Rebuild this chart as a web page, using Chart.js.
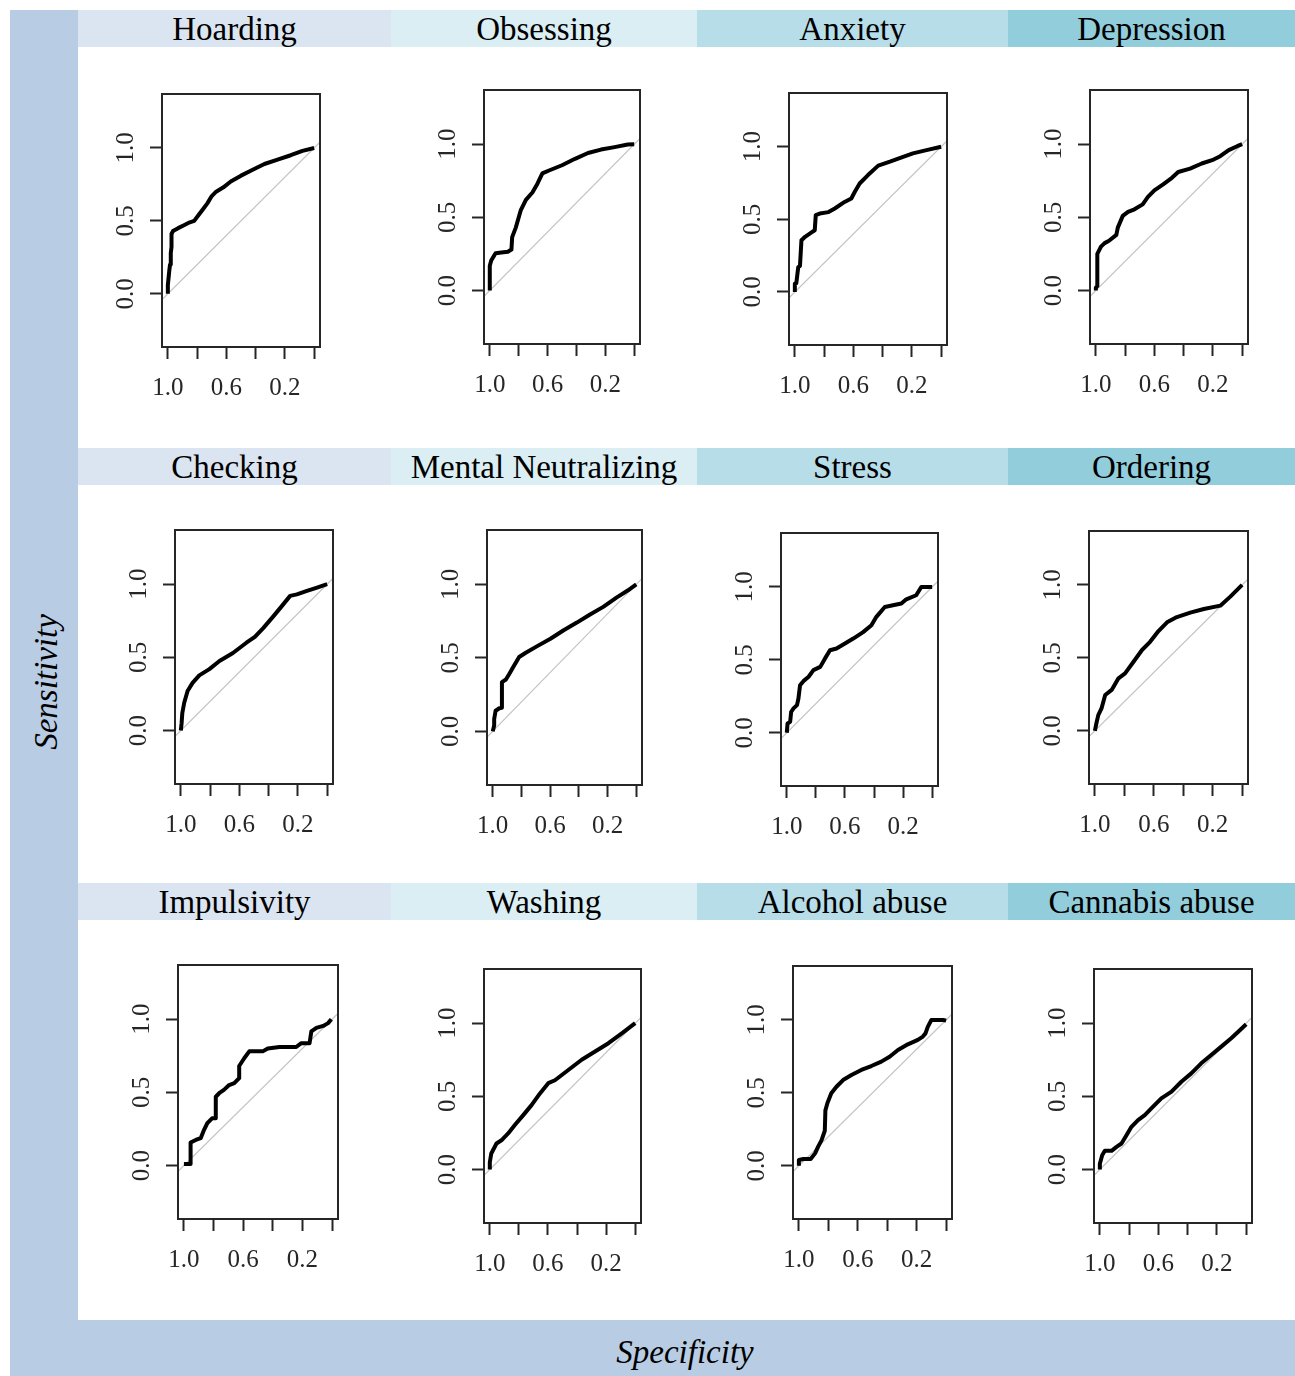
<!DOCTYPE html>
<html><head><meta charset="utf-8">
<script src="https://cdn.jsdelivr.net/npm/chart.js@4.4.0/dist/chart.umd.min.js"></script>
<style>
body{margin:0;background:#fff;}
#root{position:relative;width:1295px;height:1376px;overflow:hidden;background:#fff;font-family:'Liberation Serif',serif;}
.band{position:absolute;background:#b8cce4;}
.hdr{position:absolute;height:37px;line-height:38px;text-align:center;font-size:33px;color:#000;white-space:nowrap;}
canvas{position:absolute;}
.axt{position:absolute;font-style:italic;font-size:33px;color:#000;white-space:nowrap;line-height:40px;text-align:center;width:300px;height:40px;}
</style></head>
<body><div id="root"></div>
<script>
// ---- data ----
const panelTitles = ['Hoarding','Obsessing','Anxiety','Depression','Checking','Mental Neutralizing','Stress','Ordering','Impulsivity','Washing','Alcohol abuse','Cannabis abuse'];
const headerColors = ['#dbe5f1','#daeef3','#b6dde8','#92cddc'];
const xTickValues = [1.0,0.8,0.6,0.4,0.2,0.0];
const xTickLabels = ['1.0','0.6','0.2'];
const yTickValues = [0.0,0.5,1.0];
const yTickLabels = ['0.0','0.5','1.0'];
const chanceLine = [[1.06,-0.06],[-0.06,1.06]];
// ROC curves as [specificity, sensitivity]
const hoarding = [[1,0],[1,0.06],[0.995,0.11],[0.99,0.16],[0.985,0.2],[0.98,0.28],[0.975,0.32],[0.975,0.41],[0.965,0.43],[0.93,0.45],[0.89,0.47],[0.85,0.49],[0.82,0.5],[0.79,0.54],[0.76,0.58],[0.73,0.62],[0.70,0.67],[0.67,0.70],[0.62,0.73],[0.57,0.77],[0.50,0.81],[0.42,0.85],[0.34,0.89],[0.25,0.92],[0.16,0.95],[0.08,0.98],[0,1]];
const obsessing = [[1,0],[1,0.17],[0.99,0.205],[0.96,0.255],[0.92,0.26],[0.875,0.265],[0.85,0.28],[0.845,0.365],[0.82,0.43],[0.785,0.55],[0.75,0.62],[0.705,0.67],[0.67,0.73],[0.636,0.80],[0.59,0.82],[0.50,0.856],[0.41,0.90],[0.32,0.94],[0.23,0.963],[0.136,0.98],[0.045,0.998],[0,1]];
const anxiety = [[1,0],[1,0.057],[0.99,0.06],[0.977,0.17],[0.965,0.18],[0.955,0.356],[0.93,0.38],[0.886,0.41],[0.864,0.425],[0.857,0.53],[0.83,0.54],[0.77,0.55],[0.727,0.575],[0.66,0.62],[0.614,0.644],[0.59,0.69],[0.557,0.747],[0.5,0.805],[0.43,0.87],[0.35,0.897],[0.26,0.93],[0.193,0.954],[0.1,0.977],[0,1]];
const depression = [[1,0],[1,0.02],[0.99,0.03],[0.99,0.25],[0.965,0.30],[0.94,0.324],[0.91,0.34],[0.86,0.38],[0.85,0.43],[0.816,0.51],[0.78,0.537],[0.736,0.555],[0.68,0.589],[0.644,0.64],[0.6,0.685],[0.54,0.726],[0.48,0.77],[0.437,0.81],[0.356,0.833],[0.276,0.868],[0.195,0.895],[0.15,0.918],[0.092,0.959],[0.034,0.986],[0,1]];
const checking = [[1,0],[0.995,0.05],[0.99,0.12],[0.977,0.19],[0.954,0.27],[0.92,0.326],[0.874,0.377],[0.805,0.42],[0.736,0.475],[0.644,0.53],[0.552,0.60],[0.494,0.64],[0.437,0.70],[0.368,0.78],[0.31,0.85],[0.253,0.92],[0.207,0.93],[0.138,0.954],[0.069,0.977],[0,1]];
const mentalNeutralizing = [[1,0],[0.99,0.04],[0.99,0.084],[0.98,0.14],[0.954,0.157],[0.936,0.16],[0.936,0.335],[0.908,0.353],[0.885,0.39],[0.85,0.45],[0.816,0.506],[0.77,0.535],[0.69,0.58],[0.598,0.63],[0.506,0.688],[0.414,0.74],[0.322,0.795],[0.23,0.847],[0.138,0.91],[0.057,0.96],[0,1]];
const stress = [[1,0],[0.995,0.064],[0.977,0.075],[0.97,0.144],[0.954,0.167],[0.93,0.19],[0.92,0.235],[0.909,0.326],[0.886,0.354],[0.85,0.384],[0.817,0.43],[0.77,0.452],[0.737,0.51],[0.703,0.566],[0.658,0.578],[0.6,0.612],[0.543,0.646],[0.475,0.69],[0.418,0.737],[0.384,0.795],[0.326,0.863],[0.27,0.874],[0.212,0.886],[0.178,0.915],[0.11,0.943],[0.075,1.0],[0.0,1.0]];
const ordering = [[1,0],[0.99,0.05],[0.977,0.107],[0.955,0.153],[0.93,0.245],[0.886,0.28],[0.84,0.36],[0.795,0.394],[0.74,0.47],[0.68,0.554],[0.625,0.61],[0.568,0.684],[0.51,0.744],[0.443,0.78],[0.352,0.81],[0.26,0.835],[0.148,0.858],[0.08,0.92],[0,1]];
const impulsivity = [[1,0.01],[0.955,0.01],[0.955,0.157],[0.92,0.175],[0.887,0.187],[0.864,0.244],[0.842,0.29],[0.81,0.323],[0.785,0.323],[0.785,0.47],[0.762,0.494],[0.73,0.517],[0.695,0.55],[0.66,0.563],[0.627,0.597],[0.627,0.68],[0.593,0.733],[0.559,0.78],[0.468,0.78],[0.434,0.80],[0.355,0.81],[0.242,0.81],[0.208,0.836],[0.152,0.836],[0.14,0.916],[0.106,0.94],[0.06,0.954],[0.027,0.973],[0.005,1.0]];
const washing = [[1,0],[1,0.05],[0.99,0.11],[0.954,0.178],[0.92,0.2],[0.874,0.247],[0.828,0.304],[0.77,0.372],[0.713,0.44],[0.655,0.52],[0.598,0.59],[0.552,0.61],[0.46,0.68],[0.368,0.75],[0.276,0.806],[0.184,0.863],[0.092,0.93],[0,1]];
const alcoholAbuse = [[1,0],[1,0.04],[0.97,0.046],[0.92,0.046],[0.89,0.085],[0.87,0.13],[0.846,0.176],[0.824,0.24],[0.82,0.38],[0.806,0.43],[0.78,0.497],[0.745,0.542],[0.70,0.588],[0.643,0.622],[0.576,0.657],[0.508,0.684],[0.44,0.714],[0.384,0.748],[0.327,0.794],[0.26,0.833],[0.192,0.863],[0.158,0.886],[0.14,0.908],[0.124,0.954],[0.10,1.0],[0.02,1.0],[0,0.995]];
const cannabisAbuse = [[1,0],[1,0.04],[0.984,0.098],[0.966,0.128],[0.92,0.128],[0.886,0.155],[0.852,0.178],[0.818,0.235],[0.784,0.292],[0.739,0.338],[0.693,0.372],[0.648,0.418],[0.58,0.486],[0.51,0.532],[0.443,0.60],[0.375,0.657],[0.307,0.726],[0.239,0.783],[0.17,0.84],[0.102,0.897],[0.045,0.95],[0,0.993]];
const curves = [hoarding,obsessing,anxiety,depression,checking,mentalNeutralizing,stress,ordering,impulsivity,washing,alcoholAbuse,cannabisAbuse];

// ---- layout (plot box left, top, width, height) ----
const boxes = [
 [162,94,158,253],[484,90,156,254],[789,93,158,252],[1090,90,158,254],
 [175,530,158,254],[487,530,155,255],[781,533,157,253],[1089,531,159,253],
 [178,965,160,254],[484,969,157,254],[793,966,159,253],[1094,969,158,254]
];
const colEdges = [78,391,697,1008,1295];
const rowTops = [10,448,883];

const root = document.getElementById('root');
function div(cls, css, text){const d=document.createElement('div');d.className=cls;Object.assign(d.style,css);if(text!==undefined)d.textContent=text;root.appendChild(d);return d;}
div('band',{left:'10px',top:'10px',width:'68px',height:'1366px'});
div('band',{left:'10px',top:'1320px',width:'1285px',height:'56px'});
for(let r=0;r<3;r++)for(let c=0;c<4;c++){
  div('hdr',{left:colEdges[c]+'px',top:rowTops[r]+'px',width:(colEdges[c+1]-colEdges[c])+'px',background:headerColors[c]},panelTitles[r*4+c]);
}
div('axt',{left:(46-150)+'px',top:(682-20)+'px',transform:'rotate(-90deg)'},'Sensitivity');
div('axt',{left:(685-150)+'px',top:(1352-20)+'px'},'Specificity');

const AXW=60, AXH=60, PT=10, PR=10;
const TICK_FONT=25;
const boxPlugin={id:'box',afterDraw(chart){const a=chart.chartArea,ctx=chart.ctx;ctx.save();ctx.strokeStyle='#262626';ctx.lineWidth=2;ctx.strokeRect(a.left,a.top,a.right-a.left,a.bottom-a.top);ctx.restore();}};
const yLabelPlugin={id:'ylab',afterDraw(chart){const s=chart.scales.y,ctx=chart.ctx;ctx.save();ctx.font=TICK_FONT+'px "Liberation Serif"';ctx.fillStyle='#262626';ctx.textAlign='center';ctx.textBaseline='middle';
  s.ticks.forEach((t,i)=>{const y=s.getPixelForValue(t.value);ctx.save();ctx.translate(chart.chartArea.left-36,y);ctx.rotate(-Math.PI/2);ctx.fillText(yTickLabels[i],0,0);ctx.restore();});ctx.restore();}};

curves.forEach((curve,i)=>{
  const [bl,bt,bw,bh]=boxes[i];
  const cv=document.createElement('canvas');
  cv.width=bw+AXW+PR; cv.height=bh+PT+AXH;
  cv.style.left=(bl-AXW)+'px'; cv.style.top=(bt-PT)+'px';
  cv.style.width=cv.width+'px'; cv.style.height=cv.height+'px';
  root.appendChild(cv);
  new Chart(cv,{
    type:'scatter',
    data:{datasets:[
      {data:chanceLine.map(([x,y])=>({x,y})),showLine:true,borderColor:'#c4c4c4',backgroundColor:'#c4c4c4',borderWidth:1.2,pointRadius:0,clip:0,order:2},
      {data:curve.map(([x,y])=>({x,y})),showLine:true,borderColor:'#000',backgroundColor:'#000',borderWidth:4,pointRadius:0,clip:0,order:1,borderJoinStyle:'round',borderCapStyle:'butt'}
    ]},
    options:{
      responsive:false,animation:false,devicePixelRatio:1,
      layout:{padding:{left:0,top:PT,right:PR,bottom:0}},
      plugins:{legend:{display:false},tooltip:{enabled:false}},
      scales:{
        x:{type:'linear',reverse:true,min:-0.04,max:1.04,
          afterBuildTicks:s=>{s.ticks=xTickValues.map(v=>({value:v}));},
          afterFit:s=>{s.height=AXH;},
          grid:{display:true,drawOnChartArea:false,drawTicks:true,tickLength:12,tickWidth:2,tickColor:'#262626'},
          border:{display:false},
          ticks:{autoSkip:false,maxRotation:0,minRotation:0,padding:14,color:'#262626',font:{family:'Liberation Serif',size:TICK_FONT},
            callback:v=>{const t=Number(v).toFixed(1);return xTickLabels.includes(t)?t:'';}}
        },
        y:{type:'linear',min:-0.365,max:1.37,
          afterBuildTicks:s=>{s.ticks=yTickValues.map(v=>({value:v}));},
          afterFit:s=>{s.width=AXW;},
          grid:{display:true,drawOnChartArea:false,drawTicks:true,tickLength:12,tickWidth:2,tickColor:'#262626'},
          border:{display:false},
          ticks:{display:false}
        }
      }
    },
    plugins:[boxPlugin,yLabelPlugin]
  });
});
</script></body></html>
